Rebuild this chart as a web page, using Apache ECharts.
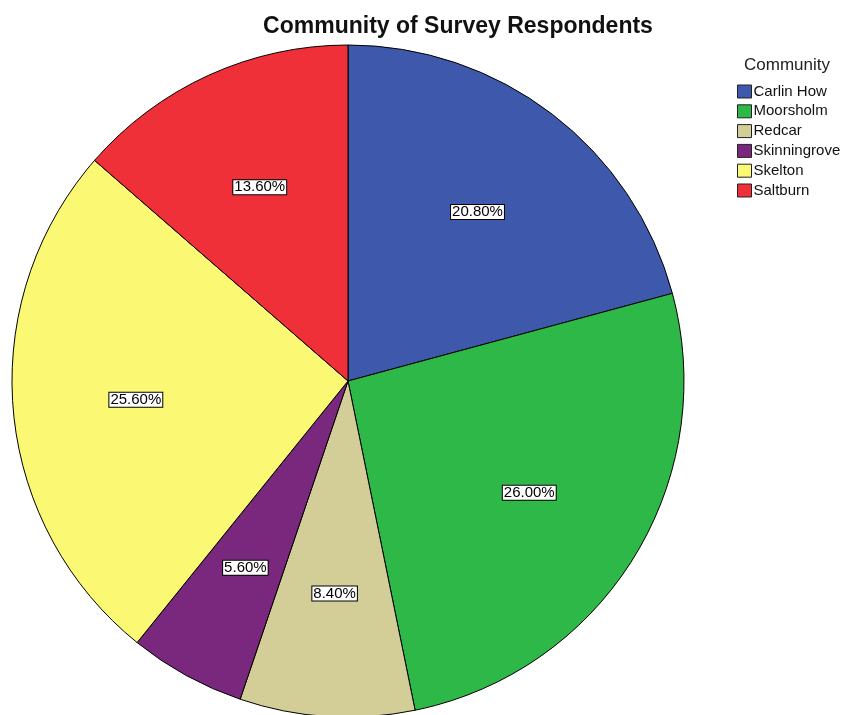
<!DOCTYPE html>
<html>
<head>
<meta charset="utf-8">
<script src="https://cdn.jsdelivr.net/npm/echarts@6/dist/echarts.min.js"></script>
<style>
  html, body { margin: 0; padding: 0; background: #fff; }
  #chart { width: 848px; height: 715px; }
</style>
</head>
<body>
<div id="chart"></div>
<script>
const communities = ['Carlin How', 'Moorsholm', 'Redcar', 'Skinningrove', 'Skelton', 'Saltburn'];
const percents = [20.8, 26.0, 8.4, 5.6, 25.6, 13.6];
const colors = ['#3E58AC', '#2EB848', '#D3CE97', '#79287E', '#FBF873', '#EF3038'];

const chart = echarts.init(document.getElementById('chart'));
const pieData = communities.map((name, i) => ({ name: name, value: percents[i] }));

const option = {
  backgroundColor: '#fff',
  color: colors,
  animation: false,
  title: {
    text: 'Community of Survey Respondents',
    left: 453,
    top: 10,
    textAlign: 'center',
    textStyle: {
      fontFamily: 'Liberation Sans, Arial, sans-serif',
      fontSize: 23,
      fontWeight: 'bold',
      color: '#111',
    },
  },
  graphic: [{
    type: 'text',
    left: 744,
    top: 57,
    style: {
      text: 'Community',
      font: '17px "Liberation Sans", Arial, sans-serif',
      fill: '#222',
    },
  }],
  legend: {
    orient: 'vertical',
    left: 732,
    top: 79,
    itemWidth: 14,
    itemHeight: 13,
    itemGap: 4.8,
    icon: 'rect',
    data: communities,
    itemStyle: { borderColor: '#222', borderWidth: 1 },
    textStyle: {
      fontFamily: 'Liberation Sans, Arial, sans-serif',
      fontSize: 15,
      color: '#111',
      padding: [0, 0, 0, -3],
    },
  },
  series: [
    {
      name: 'Community',
      type: 'pie',
      center: [348, 381],
      radius: [0, 336],
      startAngle: 90,
      clockwise: true,
      silent: true,
      label: { show: false },
      labelLine: { show: false },
      itemStyle: { borderColor: '#000', borderWidth: 1 },
      emphasis: { disabled: true },
      data: pieData,
    },
    {
      // invisible ring only used to push the labels further out
      name: 'labels',
      type: 'pie',
      center: [348, 381],
      radius: [0, 420],
      startAngle: 90,
      clockwise: true,
      silent: true,
      itemStyle: { color: 'transparent', borderWidth: 0 },
      emphasis: { disabled: true },
      labelLine: { show: false },
      label: {
        show: true,
        position: 'inside',
        formatter: p => p.value.toFixed(2) + '%',
        fontFamily: 'Liberation Sans, Arial, sans-serif',
        fontSize: 15,
        lineHeight: 14,
        color: '#000',
        backgroundColor: '#fff',
        borderColor: '#000',
        borderWidth: 1,
        padding: [0, 1],
      },
      data: pieData,
    },
  ],
};

chart.setOption(option);
</script>
</body>
</html>
